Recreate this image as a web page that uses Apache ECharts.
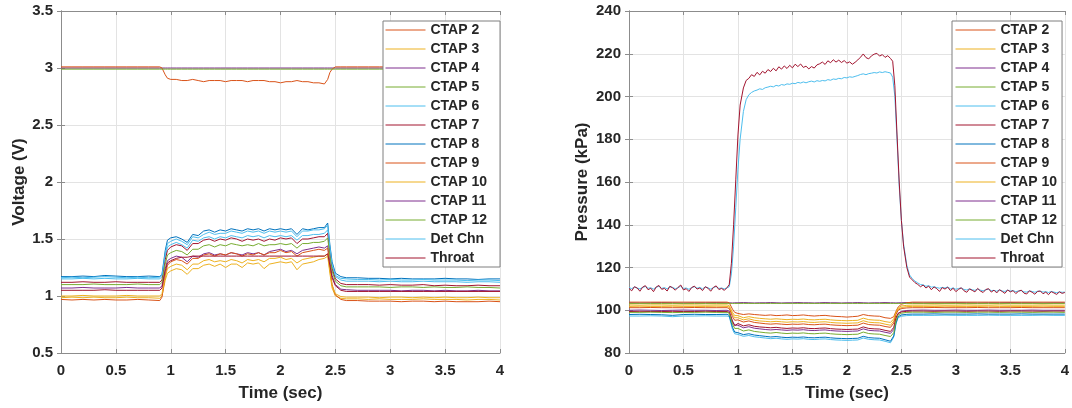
<!DOCTYPE html>
<html>
<head>
<meta charset="utf-8">
<title>CTAP voltage and pressure traces</title>
<script src="https://cdn.jsdelivr.net/npm/echarts/dist/echarts.min.js"></script>
<style>
  html, body { margin: 0; padding: 0; background: #ffffff; }
  #main { width: 1072px; height: 408px; }
</style>
</head>
<body>
<div id="main"></div>
<script>
// Sample times (s): pre-run, ramp up, run, ramp down, post-run
const timeSec = [
  0,0.1,0.2,0.3,0.4,0.5,0.6,0.7,0.8,0.9,
  0.92,0.95,0.97,
  1.0,1.05,1.1,1.15,1.2,1.25,1.3,1.35,1.4,1.45,1.5,1.55,1.6,1.65,1.7,1.75,1.8,1.85,1.9,1.95,2.0,2.05,2.1,2.15,2.2,2.25,2.3,2.35,2.4,
  2.43,2.45,2.47,
  2.5,2.55,2.6,2.7,2.8,2.9,3.0,3.1,3.2,3.3,3.4,3.5,3.6,3.7,3.8,3.9,4.0
];
// Finer sample times for the two noisy high-pressure channels
const timeFine = [
  0,0.025,0.05,0.075,0.1,0.125,0.15,0.175,0.2,0.225,
  0.25,0.275,0.3,0.325,0.35,0.375,0.4,0.425,0.45,0.475,
  0.5,0.525,0.55,0.575,0.6,0.625,0.65,0.675,0.7,0.725,
  0.75,0.775,0.8,0.825,0.85,0.875,0.9,
  0.92,0.94,0.96,0.98,1.0,1.02,1.05,1.075,
  1.1,1.125,1.15,1.175,1.2,1.225,1.25,1.275,1.3,1.325,
  1.35,1.375,1.4,1.425,1.45,1.475,1.5,
  1.525,1.55,1.575,1.6,1.625,1.65,1.675,1.7,1.725,1.75,
  1.775,1.8,1.825,1.85,1.875,1.9,1.925,1.95,1.975,2.0,
  2.025,2.05,2.075,2.1,2.125,2.15,2.175,2.2,2.225,2.25,
  2.275,2.3,2.325,2.35,2.375,2.4,
  2.42,2.44,2.46,2.48,2.5,2.52,2.55,2.575,
  2.6,2.625,2.65,2.675,2.7,2.725,2.75,2.775,2.8,2.825,
  2.85,2.875,2.9,2.925,2.95,2.975,3.0,3.025,3.05,3.075,
  3.1,3.125,3.15,3.175,3.2,3.225,3.25,3.275,3.3,3.325,
  3.35,3.375,3.4,3.425,3.45,3.475,3.5,3.525,3.55,3.575,
  3.6,3.625,3.65,3.675,3.7,3.725,3.75,3.775,3.8,3.825,
  3.85,3.875,3.9,3.925,3.95,3.975,4.0
];

const channelNames = ['CTAP 2','CTAP 3','CTAP 4','CTAP 5','CTAP 6','CTAP 7','CTAP 8','CTAP 9','CTAP 10','CTAP 11','CTAP 12','Det Chn','Throat'];
const channelColors = ['#D95319','#EDB120','#7E2F8E','#77AC30','#4DBEEE','#A2142F','#0072BD','#D95319','#EDB120','#7E2F8E','#77AC30','#4DBEEE','#A2142F'];
// CTAP 11 sits under its neighbours on the flat supply-level trace
const channelLayer = [2,2,2,2,2,2,2,2,2,1,2,2,2];

const xTicks = { min: 0, max: 4, step: 0.5 };
const voltTicks = { min: 0.5, max: 3.5, step: 0.5 };
const pressTicks = { min: 80, max: 240, step: 20 };

// ---- Transducer output voltage (V) ----
const vCtap2 = [
  3.01,3.01,3.01,3.01,3.01,3.01,3.01,3.01,3.01,3.01,
  3.00,2.94,2.91,
  2.90,2.90,2.89,2.89,2.90,2.89,2.88,2.89,2.89,2.89,
  2.88,2.89,2.89,2.89,2.88,2.89,2.89,2.89,2.88,2.88,
  2.87,2.88,2.88,2.89,2.88,2.88,2.87,2.87,2.86,
  2.90,2.96,2.99,
  3.01,3.01,3.01,3.01,3.01,3.01,3.01,3.01,3.01,3.01,3.01,3.01,3.01,3.01,3.01,3.01,3.01
];
const vCtap3 = [
  0.985,0.99,0.985,0.99,0.985,0.985,0.99,0.985,0.985,0.98,
  1.00,1.14,1.20,
  1.22,1.24,1.23,1.19,1.24,1.24,1.27,1.28,1.26,1.28,
  1.25,1.28,1.28,1.25,1.29,1.28,1.29,1.24,1.28,1.29,
  1.30,1.29,1.30,1.23,1.28,1.29,1.30,1.32,1.33,
  1.35,1.20,1.07,
  1.00,0.98,0.975,0.975,0.97,0.975,0.97,0.97,0.97,0.975,0.97,0.97,0.97,0.965,0.97,0.97,0.965
];
const vCtap4 = [
  1.07,1.07,1.075,1.07,1.07,1.07,1.075,1.07,1.07,1.07,
  1.09,1.24,1.31,
  1.33,1.35,1.34,1.30,1.35,1.34,1.37,1.38,1.36,1.37,
  1.36,1.38,1.37,1.36,1.38,1.37,1.38,1.36,1.39,1.40,
  1.41,1.39,1.40,1.37,1.40,1.41,1.42,1.43,1.42,
  1.44,1.30,1.18,
  1.10,1.06,1.055,1.05,1.05,1.05,1.05,1.045,1.05,1.05,1.045,1.05,1.045,1.045,1.05,1.045,1.045
];
const vCtap5 = [
  2.99,2.99,2.99,2.99,2.99,2.99,2.99,2.99,2.99,2.99,
  2.99,2.99,2.99,
  2.99,2.99,2.99,2.99,2.99,2.99,2.99,2.99,2.99,2.99,
  2.99,2.99,2.99,2.99,2.99,2.99,2.99,2.99,2.99,2.99,
  2.99,2.99,2.99,2.99,2.99,2.99,2.99,2.99,2.99,
  2.99,2.99,2.99,
  2.99,2.99,2.99,2.99,2.99,2.99,2.99,2.99,2.99,2.99,2.99,2.99,2.99,2.99,2.99,2.99,2.99
];
const vCtap6 = [
  1.15,1.15,1.155,1.15,1.155,1.15,1.15,1.155,1.15,1.15,
  1.17,1.34,1.43,
  1.45,1.47,1.45,1.42,1.49,1.48,1.51,1.52,1.50,1.52,
  1.51,1.53,1.52,1.51,1.53,1.52,1.53,1.51,1.53,1.52,
  1.53,1.52,1.53,1.49,1.53,1.53,1.54,1.54,1.55,
  1.58,1.40,1.26,
  1.17,1.14,1.13,1.13,1.13,1.125,1.13,1.125,1.125,1.13,1.125,1.125,1.125,1.12,1.125,1.125,1.12
];
const vCtap7 = [
  1.12,1.12,1.125,1.12,1.12,1.125,1.12,1.12,1.12,1.12,
  1.14,1.32,1.40,
  1.43,1.45,1.44,1.40,1.46,1.46,1.49,1.50,1.48,1.50,
  1.49,1.51,1.50,1.48,1.50,1.49,1.50,1.48,1.50,1.49,
  1.51,1.50,1.51,1.46,1.50,1.50,1.51,1.52,1.52,
  1.55,1.38,1.24,
  1.15,1.11,1.10,1.10,1.10,1.095,1.10,1.095,1.095,1.10,1.09,1.095,1.09,1.09,1.095,1.09,1.09
];
const vCtap8 = [
  1.17,1.17,1.175,1.17,1.18,1.175,1.17,1.17,1.175,1.17,
  1.19,1.40,1.49,
  1.51,1.52,1.50,1.47,1.54,1.53,1.57,1.58,1.56,1.58,
  1.57,1.59,1.58,1.57,1.59,1.58,1.59,1.57,1.59,1.58,
  1.59,1.58,1.59,1.54,1.59,1.58,1.59,1.60,1.60,
  1.64,1.45,1.30,
  1.20,1.17,1.16,1.16,1.155,1.155,1.15,1.155,1.15,1.15,1.15,1.155,1.15,1.15,1.145,1.15,1.15
];
const vCtap9 = [
  0.97,0.965,0.97,0.965,0.97,0.965,0.965,0.97,0.965,0.96,
  0.99,1.18,1.27,
  1.30,1.32,1.31,1.28,1.33,1.33,1.36,1.37,1.35,1.37,
  1.36,1.38,1.37,1.35,1.37,1.36,1.38,1.36,1.38,1.38,
  1.40,1.38,1.39,1.35,1.38,1.39,1.40,1.41,1.40,
  1.42,1.25,1.10,
  1.01,0.97,0.96,0.96,0.955,0.955,0.955,0.95,0.955,0.955,0.95,0.955,0.95,0.95,0.95,0.955,0.95
];
const vCtap10 = [
  1.00,1.00,1.005,1.00,1.00,1.00,1.005,1.00,1.00,1.00,
  1.02,1.17,1.24,
  1.26,1.28,1.27,1.23,1.28,1.28,1.31,1.32,1.30,1.31,
  1.30,1.32,1.31,1.29,1.32,1.31,1.32,1.30,1.33,1.33,
  1.34,1.32,1.33,1.29,1.32,1.33,1.34,1.35,1.35,
  1.37,1.22,1.09,
  1.02,0.995,0.99,0.99,0.99,0.985,0.99,0.99,0.985,0.99,0.985,0.99,0.985,0.985,0.99,0.985,0.985
];
const vCtap11 = [
  3.00,3.00,3.00,3.00,3.00,3.00,3.00,3.00,3.00,3.00,
  3.00,3.00,3.00,
  3.00,3.00,3.00,3.00,3.00,3.00,3.00,3.00,3.00,3.00,
  3.00,3.00,3.00,3.00,3.00,3.00,3.00,3.00,3.00,3.00,
  3.00,3.00,3.00,3.00,3.00,3.00,3.00,3.00,3.00,
  3.00,3.00,3.00,
  3.00,3.00,3.00,3.00,3.00,3.00,3.00,3.00,3.00,3.00,3.00,3.00,3.00,3.00,3.00,3.00,3.00
];
const vCtap12 = [
  1.10,1.10,1.10,1.105,1.10,1.10,1.10,1.105,1.10,1.10,
  1.12,1.28,1.36,
  1.38,1.40,1.39,1.36,1.41,1.41,1.44,1.45,1.43,1.45,
  1.44,1.46,1.45,1.44,1.45,1.44,1.46,1.44,1.45,1.45,
  1.46,1.45,1.46,1.42,1.46,1.46,1.47,1.47,1.48,
  1.51,1.35,1.22,
  1.13,1.09,1.08,1.08,1.08,1.08,1.075,1.08,1.08,1.075,1.08,1.075,1.075,1.08,1.075,1.075,1.07
];
const vDetChn = [
  1.16,1.165,1.16,1.165,1.17,1.165,1.16,1.165,1.16,1.165,
  1.18,1.37,1.46,
  1.48,1.50,1.48,1.45,1.52,1.51,1.54,1.56,1.54,1.55,
  1.55,1.57,1.56,1.55,1.57,1.56,1.57,1.55,1.57,1.56,
  1.57,1.56,1.57,1.52,1.57,1.57,1.58,1.58,1.59,
  1.62,1.43,1.28,
  1.18,1.155,1.15,1.145,1.145,1.14,1.145,1.14,1.14,1.145,1.14,1.14,1.14,1.135,1.14,1.14,1.135
];
const vThroat = [
  1.05,1.05,1.05,1.05,1.055,1.05,1.05,1.05,1.05,1.05,
  1.07,1.22,1.29,
  1.31,1.33,1.34,1.34,1.35,1.35,1.35,1.35,1.35,1.35,
  1.35,1.35,1.35,1.35,1.35,1.35,1.35,1.35,1.35,1.35,
  1.35,1.35,1.35,1.35,1.35,1.35,1.35,1.35,1.35,
  1.37,1.27,1.16,
  1.09,1.05,1.04,1.04,1.04,1.04,1.04,1.04,1.04,1.04,1.04,1.04,1.04,1.04,1.04,1.04,1.04
];

// ---- Measured pressure (kPa) ----
const pCtap2 = [
  103.8,103.8,103.8,103.8,103.8,103.8,103.8,103.8,103.8,103.8,
  103.5,100.5,99.0,
  98.5,98.0,98.3,98.0,97.8,97.6,97.8,97.5,97.6,97.8,
  97.5,97.6,97.8,97.5,97.3,97.5,97.6,97.3,97.1,97.0,
  96.8,97.0,97.2,98.0,97.5,97.3,97.2,96.5,96.2,
  97.0,99.5,101.5,
  102.8,103.5,103.8,103.8,103.8,103.8,103.8,103.8,103.8,103.8,103.8,103.8,103.8,103.8,103.8,103.8,103.8
];
const pCtap3 = [
  101.8,101.9,101.8,101.8,101.9,101.8,101.8,101.8,101.9,101.8,
  101.5,98.0,96.5,
  96.5,95.5,96.0,95.3,95.0,94.8,94.6,94.8,94.6,94.4,
  94.6,94.5,94.7,94.4,94.3,94.5,94.6,94.3,94.1,94.0,
  93.9,94.0,94.1,95.1,94.4,94.2,94.1,93.5,93.0,
  95.0,98.5,100.5,
  101.3,101.7,101.8,101.8,101.8,101.9,101.8,101.8,101.8,101.9,101.8,101.8,101.8,101.8,101.9,101.8,101.8
];
const pCtap4 = [
  100.0,100.1,100.0,99.9,100.0,100.1,100.0,100.0,99.9,100.0,
  99.6,95.0,93.0,
  93.0,91.8,92.3,91.6,91.3,91.0,90.8,91.0,90.8,90.6,
  90.8,90.7,90.9,90.6,90.5,90.7,90.8,90.5,90.3,90.2,
  90.1,90.2,90.3,91.3,90.6,90.4,90.3,89.7,89.2,
  91.0,96.0,98.5,
  99.5,99.9,100.0,100.1,100.0,100.0,100.1,100.0,100.0,100.1,100.0,100.0,100.0,100.1,100.0,100.0,100.0
];
const pCtap5 = [
  103.2,103.2,103.2,103.2,103.2,103.2,103.2,103.2,103.2,103.2,
  103.2,103.2,103.2,
  103.2,103.2,103.2,103.2,103.2,103.2,103.2,103.2,103.2,103.2,
  103.2,103.2,103.2,103.2,103.2,103.2,103.2,103.2,103.2,103.2,
  103.2,103.2,103.2,103.2,103.2,103.2,103.2,103.2,103.2,
  103.2,103.2,103.2,
  103.2,103.2,103.2,103.2,103.2,103.2,103.2,103.2,103.2,103.2,103.2,103.2,103.2,103.2,103.2,103.2,103.2
];
const pCtap6 = [
  97.3,97.3,97.4,97.3,97.0,97.3,97.3,97.4,97.3,97.3,
  97.0,91.0,89.0,
  88.7,87.8,88.2,87.6,87.3,87.0,86.7,86.9,86.6,86.4,
  86.6,86.5,86.7,86.4,86.3,86.5,86.6,86.3,86.1,86.0,
  85.9,86.0,86.1,87.0,86.4,86.2,86.1,85.5,84.8,
  87.5,93.5,96.5,
  97.2,97.5,97.6,97.6,97.6,97.7,97.6,97.6,97.6,97.7,97.6,97.6,97.6,97.6,97.7,97.6,97.6
];
const pCtap7 = [
  99.4,99.5,99.4,99.4,99.5,99.4,99.4,99.5,99.4,99.4,
  99.0,94.5,92.8,
  93.8,92.7,93.2,92.5,92.2,92.0,91.8,92.0,91.7,91.5,
  91.7,91.6,91.8,91.5,91.4,91.6,91.7,91.4,91.2,91.1,
  91.0,91.1,91.2,92.2,91.5,91.3,91.2,90.6,90.1,
  92.0,96.5,98.5,
  99.2,99.5,99.6,99.6,99.5,99.6,99.6,99.5,99.6,99.6,99.5,99.6,99.6,99.6,99.5,99.6,99.6
];
const pCtap8 = [
  98.0,98.1,98.0,97.9,97.6,98.0,98.1,98.0,98.0,98.1,
  97.6,92.0,89.8,
  89.5,88.6,89.0,88.4,88.1,87.8,87.5,87.7,87.4,87.2,
  87.4,87.3,87.5,87.2,87.1,87.3,87.4,87.1,86.9,86.8,
  86.7,86.8,86.9,87.8,87.2,87.0,86.9,86.2,85.5,
  88.0,94.0,97.0,
  97.8,98.1,98.2,98.2,98.3,98.2,98.2,98.2,98.3,98.2,98.2,98.2,98.3,98.2,98.2,98.2,98.2
];
const pCtap9 = [
  101.2,101.2,101.3,101.2,101.2,101.2,101.3,101.2,101.2,101.2,
  100.8,97.0,95.3,
  95.5,94.5,95.0,94.3,94.0,93.7,93.5,93.7,93.5,93.3,
  93.5,93.4,93.6,93.3,93.2,93.4,93.5,93.2,93.0,92.9,
  92.8,92.9,93.0,94.0,93.3,93.1,93.0,92.4,92.0,
  94.0,98.0,100.0,
  100.8,101.1,101.2,101.2,101.3,101.2,101.2,101.2,101.3,101.2,101.2,101.2,101.3,101.2,101.2,101.2,101.2
];
const pCtap10 = [
  102.5,102.4,102.5,102.5,102.4,102.5,102.5,102.4,102.5,102.5,
  102.2,99.0,97.5,
  97.5,96.5,97.0,96.5,96.2,96.0,95.8,96.0,95.8,95.6,
  95.8,95.7,95.9,95.6,95.5,95.7,95.8,95.5,95.3,95.2,
  95.1,95.2,95.3,96.3,95.6,95.4,95.3,94.7,94.3,
  96.0,99.0,101.0,
  102.0,102.3,102.4,102.4,102.5,102.4,102.4,102.5,102.4,102.4,102.5,102.4,102.4,102.4,102.5,102.4,102.4
];
const pCtap11 = [
  103.5,103.4,103.5,103.6,103.5,103.4,103.5,103.5,103.6,103.5,
  103.5,103.4,103.5,
  103.5,103.6,103.5,103.4,103.5,103.5,103.6,103.5,103.4,103.5,
  103.5,103.6,103.5,103.5,103.4,103.5,103.6,103.5,103.5,103.4,
  103.5,103.5,103.6,103.5,103.4,103.5,103.5,103.6,103.5,
  103.5,103.4,103.5,
  103.5,103.6,103.5,103.4,103.5,103.5,103.6,103.5,103.4,103.5,103.5,103.6,103.5,103.5,103.4,103.5,103.5
];
const pCtap12 = [
  99.0,99.0,99.1,99.0,98.9,99.0,99.0,99.1,99.0,99.0,
  98.6,93.5,91.5,
  91.5,90.3,90.8,90.1,89.8,89.5,89.3,89.6,89.3,89.1,
  89.3,89.2,89.4,89.1,89.0,89.2,89.3,89.0,88.8,88.7,
  88.6,88.7,88.8,89.8,89.1,88.9,88.8,88.2,87.7,
  89.5,95.0,97.8,
  98.6,99.0,99.1,99.1,99.0,99.1,99.1,99.0,99.1,99.1,99.0,99.1,99.1,99.0,99.1,99.1,99.0
];
// Detonation channel and throat pressures, on timeFine
const pDetChn = [
  110.6,110.1,110.9,110.4,110.0,110.7,111.1,110.3,110.5,109.9,
  110.8,111.2,110.2,110.6,110.0,111.0,110.7,110.1,110.5,111.3,
  110.2,110.4,109.8,110.6,111.0,110.3,110.7,110.0,110.9,110.5,
  109.9,110.6,111.1,110.2,110.4,110.0,110.5,
  111,117,130,148,166,180,193,198.5,
  200.8,201.9,202.6,203.0,203.6,203.3,204.1,204.4,204.8,204.5,
  205.2,204.9,205.6,205.3,205.9,205.7,206.2,
  206.0,206.6,206.3,206.8,206.4,206.9,207.2,206.8,207.4,207.1,
  207.5,207.3,207.9,207.6,208.2,208.0,208.5,208.3,208.9,208.7,
  209.2,209.0,209.4,209.8,210.3,210.6,210.2,210.7,210.9,211.2,
  211.0,211.5,211.2,211.6,211.3,211.0,
  209,200,180,158,142,131,121,116.5,
  114.8,113.6,112.8,112.0,111.9,111.2,111.5,110.8,111.0,110.6,
  110.3,110.7,110.4,110.9,110.0,110.5,109.8,110.2,110.4,109.7,
  109.5,110.0,109.6,109.3,109.9,109.4,109.1,109.6,109.8,109.2,
  109.3,108.9,109.5,109.0,108.8,109.4,109.0,109.2,108.7,109.0,
  109.2,108.6,108.5,109.0,108.8,108.4,108.9,108.9,108.5,108.7,
  108.3,108.8,108.5,108.2,108.6,108.4,108.5
];
const pThroat = [
  110.2,109.1,111.0,110.4,108.9,110.8,111.5,109.6,110.3,108.7,
  110.9,111.6,109.8,110.2,109.0,111.2,110.5,109.4,110.7,111.8,
  109.5,110.1,108.8,110.6,111.3,109.9,110.4,109.2,111.0,110.3,
  108.9,110.7,111.4,109.7,110.2,109.3,110.6,
  112,122,140,161,182,196,204,207.5,
  208.5,210.2,209.4,211.3,210.1,211.8,210.9,212.6,211.7,213.2,
  212.0,213.9,212.8,214.3,213.1,214.6,213.4,
  215.1,214.0,215.2,213.6,214.2,212.9,214.0,213.3,214.8,215.3,
  216.1,215.0,216.7,215.8,217.2,216.1,217.0,215.9,216.8,215.6,
  216.2,215.1,216.0,217.1,218.4,219.9,218.2,217.6,219.0,219.8,
  220.2,218.9,219.6,218.3,219.1,217.8,
  216.5,205,182,160,142,130,120,115.5,
  114.2,112.9,112.1,111.0,111.8,110.4,111.3,109.6,110.9,110.1,
  108.8,110.6,109.9,110.8,109.2,110.3,108.7,109.8,110.5,109.1,
  108.4,110.0,109.3,108.6,110.2,109.0,108.3,109.7,110.1,108.5,
  109.4,108.1,109.6,108.8,107.9,109.5,108.6,109.2,107.8,108.9,
  109.4,108.0,107.6,109.1,108.4,107.5,108.8,109.0,107.7,108.5,
  107.3,108.7,108.1,107.4,108.6,107.9,108.3
];

const voltageSeries = [vCtap2,vCtap3,vCtap4,vCtap5,vCtap6,vCtap7,vCtap8,vCtap9,vCtap10,vCtap11,vCtap12,vDetChn,vThroat];
const pressureSeries = [pCtap2,pCtap3,pCtap4,pCtap5,pCtap6,pCtap7,pCtap8,pCtap9,pCtap10,pCtap11,pCtap12,pDetChn,pThroat];
const pressureTimes = [timeSec,timeSec,timeSec,timeSec,timeSec,timeSec,timeSec,timeSec,timeSec,timeSec,timeSec,timeFine,timeFine];

// ---- styling ----
const FONT = '"Liberation Sans", Arial, Helvetica, sans-serif';
const TEXT = '#262626';
const FRAME = '#8c8c8c';
const GRID_LINE = '#e3e3e3';

function pairUp(times, values) {
  return times.map((t, i) => [t, values[i]]);
}

function mainX(gridIndex) {
  return {
    type: 'value', gridIndex, position: 'bottom',
    min: xTicks.min, max: xTicks.max, interval: xTicks.step,
    name: 'Time (sec)', nameLocation: 'middle', nameGap: 32,
    nameTextStyle: { fontFamily: FONT, fontWeight: 'bold', fontSize: 17, color: TEXT },
    axisLine: { show: true, lineStyle: { color: FRAME, width: 1 } },
    axisTick: { show: true, inside: true, length: 4, lineStyle: { color: FRAME } },
    axisLabel: { fontFamily: FONT, fontWeight: 'bold', fontSize: 15, color: TEXT, margin: 10 },
    splitLine: { show: true, lineStyle: { color: GRID_LINE, width: 1 } }
  };
}
function mirrorX(gridIndex) {
  return {
    type: 'value', gridIndex, position: 'top',
    min: xTicks.min, max: xTicks.max, interval: xTicks.step,
    axisLine: { show: true, lineStyle: { color: FRAME, width: 1 } },
    axisTick: { show: true, inside: true, length: 4, lineStyle: { color: FRAME } },
    axisLabel: { show: false }, splitLine: { show: false }
  };
}
function mainY(gridIndex, ticks, title, gap) {
  return {
    type: 'value', gridIndex, position: 'left',
    min: ticks.min, max: ticks.max, interval: ticks.step,
    name: title, nameLocation: 'middle', nameGap: gap,
    nameTextStyle: { fontFamily: FONT, fontWeight: 'bold', fontSize: 17, color: TEXT },
    axisLine: { show: true, lineStyle: { color: FRAME, width: 1 } },
    axisTick: { show: true, inside: true, length: 4, lineStyle: { color: FRAME } },
    axisLabel: { fontFamily: FONT, fontWeight: 'bold', fontSize: 15, color: TEXT, margin: 8 },
    splitLine: { show: true, lineStyle: { color: GRID_LINE, width: 1 } }
  };
}
function mirrorY(gridIndex, ticks) {
  return {
    type: 'value', gridIndex, position: 'right',
    min: ticks.min, max: ticks.max, interval: ticks.step,
    axisLine: { show: true, lineStyle: { color: FRAME, width: 1 } },
    axisTick: { show: true, inside: true, length: 4, lineStyle: { color: FRAME } },
    axisLabel: { show: false }, splitLine: { show: false }
  };
}
function legendBox(left, padding) {
  return {
    orient: 'vertical', left, top: 21,
    data: channelNames,
    selectedMode: false,
    itemWidth: 40, itemHeight: 14, itemGap: 5,
    padding,
    itemStyle: { opacity: 0 },
    lineStyle: { width: 1 },
    backgroundColor: '#ffffff',
    borderColor: '#7f7f7f', borderWidth: 1, borderRadius: 0,
    textStyle: { fontFamily: FONT, fontWeight: 'bold', fontSize: 14, lineHeight: 14, color: TEXT }
  };
}

const series = [];
channelNames.forEach((name, i) => {
  series.push({
    name, type: 'line', xAxisIndex: 0, yAxisIndex: 0, z: channelLayer[i],
    data: pairUp(timeSec, voltageSeries[i]),
    symbol: 'none', color: channelColors[i],
    lineStyle: { width: 1, color: channelColors[i] },
    emphasis: { disabled: true }, silent: true
  });
});
channelNames.forEach((name, i) => {
  series.push({
    name, type: 'line', xAxisIndex: 1, yAxisIndex: 1, z: channelLayer[i],
    data: pairUp(pressureTimes[i], pressureSeries[i]),
    symbol: 'none', color: channelColors[i],
    lineStyle: { width: 1, color: channelColors[i] },
    emphasis: { disabled: true }, silent: true
  });
});

const chart = echarts.init(document.getElementById('main'), null, { renderer: 'canvas' });
chart.setOption({
  backgroundColor: '#ffffff',
  animation: false,
  grid: [
    { left: 61, top: 11, width: 439, height: 342 },
    { left: 629, top: 11, width: 440, height: 342 }
  ],
  xAxis: [mainX(0), mainX(1), mirrorX(0), mirrorX(1)],
  yAxis: [
    mainY(0, voltTicks, 'Voltage (V)', 33),
    mainY(1, pressTicks, 'Pressure (kPa)', 38),
    mirrorY(0, voltTicks),
    mirrorY(1, pressTicks)
  ],
  legend: [legendBox(383, [2, 13, 2, 2]), legendBox(952, [2, 5, 2, 3])],
  series
});
</script>
</body>
</html>
